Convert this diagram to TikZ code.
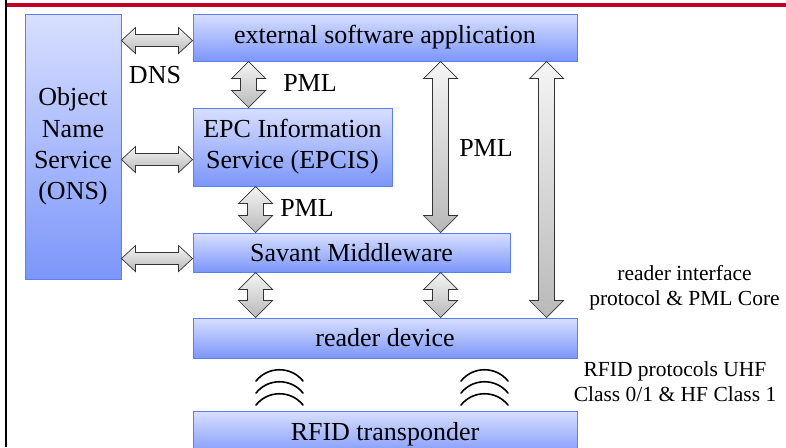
\documentclass[tikz,border=0pt]{standalone}
\usepackage{fontspec}
\setmainfont{Liberation Serif}
\usetikzlibrary{calc}
\definecolor{boxtop}{RGB}{216,223,255}
\definecolor{boxbot}{RGB}{124,150,250}
\definecolor{boxedge}{RGB}{92,126,245}
\definecolor{framered}{RGB}{196,0,36}
\newcommand\boxfont{\rmfamily\fontsize{26}{31.2}\selectfont}
\newcommand\notefont{\rmfamily\fontsize{21.5}{25}\selectfont}
\tikzset{
  box/.style={draw=boxedge,line width=0.9pt,top color=boxtop,bottom color=boxbot,
    inner sep=0pt,align=center,font=\boxfont},
  lab/.style={inner sep=0pt,align=center,font=\boxfont},
  note/.style={inner sep=0pt,align=center,font=\notefont},
  fat/.style={draw=black!80,line width=0.7pt,top color=gray!8,bottom color=gray!55},
  % vertical double block arrow, top node to bottom node
  vfat/.style={fat,to path={let \p1=(\tikztostart), \p2=(\tikztotarget) in
    (\x1,\y1) -- (\x1+17pt,\y1-17pt) -- (\x1+8pt,\y1-17pt) -- (\x2+8pt,\y2+17pt)
    -- (\x2+17pt,\y2+17pt) -- (\x2,\y2) -- (\x2-17pt,\y2+17pt) -- (\x2-8pt,\y2+17pt)
    -- (\x1-8pt,\y1-17pt) -- (\x1-17pt,\y1-17pt) -- cycle}},
  % horizontal double block arrow, left node to right node
  hfat/.style={fat,to path={let \p1=(\tikztostart), \p2=(\tikztotarget) in
    (\x1,\y1) -- (\x1+14pt,\y1+13pt) -- (\x1+14pt,\y1+6pt) -- (\x2-14pt,\y2+6pt)
    -- (\x2-14pt,\y2+13pt) -- (\x2,\y2) -- (\x2-14pt,\y2-13pt) -- (\x2-14pt,\y2-6pt)
    -- (\x1+14pt,\y1-6pt) -- (\x1+14pt,\y1-13pt) -- cycle}},
  wave/.style={line width=1.6pt,line cap=round}
}
\begin{document}
\begin{tikzpicture}[x=1pt,y=-1pt]
\clip (0,0) rectangle (786,447);
\useasboundingbox (0,0) rectangle (786,447);
% frame
\draw[line width=2pt] (6,0) -- (6,447);
\draw[framered,line width=4pt] (7,5) -- (786,5);
% boxes
\node[box,minimum width=96pt,minimum height=265pt] (ons) at (73,146.5) {Object\\Name\\Service\\(ONS)};
\node[box,minimum width=384pt,minimum height=47pt] (ext) at (385,37.5) {external software application};
\node[box,minimum width=199pt,minimum height=78pt] (epcis) at (292.5,147) {EPC Information\\Service (EPCIS)};
\node[box,minimum width=317pt,minimum height=39pt] (savant) at (351.5,252.5) {Savant Middleware};
\node[box,minimum width=384pt,minimum height=40pt] (reader) at (385,338) {reader device};
\node[box,minimum width=384pt,minimum height=46pt] (rfid) at (385,434) {RFID transponder};
% links to ONS
\draw[hfat] ([yshift=-27pt]ons.north east) to ([yshift=-27pt]ext.north west);
\draw[hfat] ([yshift=-146pt]ons.north east) to ([yshift=-52pt]epcis.north west);
\draw[hfat] ([yshift=-245pt]ons.north east) to ([yshift=-26pt]savant.north west);
% vertical links
\draw[vfat] ([xshift=56pt]ext.south west) to ([xshift=56pt]epcis.north west);
\draw[vfat] ([xshift=63pt]epcis.south west) to ([xshift=63pt]savant.north west);
\draw[vfat] ([xshift=248pt]ext.south west) to ([xshift=248pt]savant.north west);
\draw[vfat] ([xshift=354pt]ext.south west) to ([xshift=354pt]reader.north west);
\draw[vfat] ([xshift=63pt]savant.south west) to ([xshift=63pt]reader.north west);
\draw[vfat] ([xshift=248pt]savant.south west) to ([xshift=248pt]reader.north west);
% labels
\node[lab] (dns) at (155,75) {DNS};
\node[lab] (pmlA) at (310,83) {PML};
\node[lab] (pmlB) at (307,208) {PML};
\node[lab] (pmlC) at (486,148) {PML};
\node[note] (ifc) at (684.5,288) {reader interface\\protocol \& PML Core};
\node[note] (air) at (675,382) {RFID protocols UHF\\Class 0/1 \& HF Class 1};
% air interface waves
\foreach \cx in {279.5,484.5}
  \foreach \dy in {0,12,24}
    \draw[wave] (\cx-23.5,381+\dy) .. controls (\cx-11.5,366+\dy) and (\cx+11.5,366+\dy) .. (\cx+23.5,381+\dy);
\end{tikzpicture}
\end{document}
